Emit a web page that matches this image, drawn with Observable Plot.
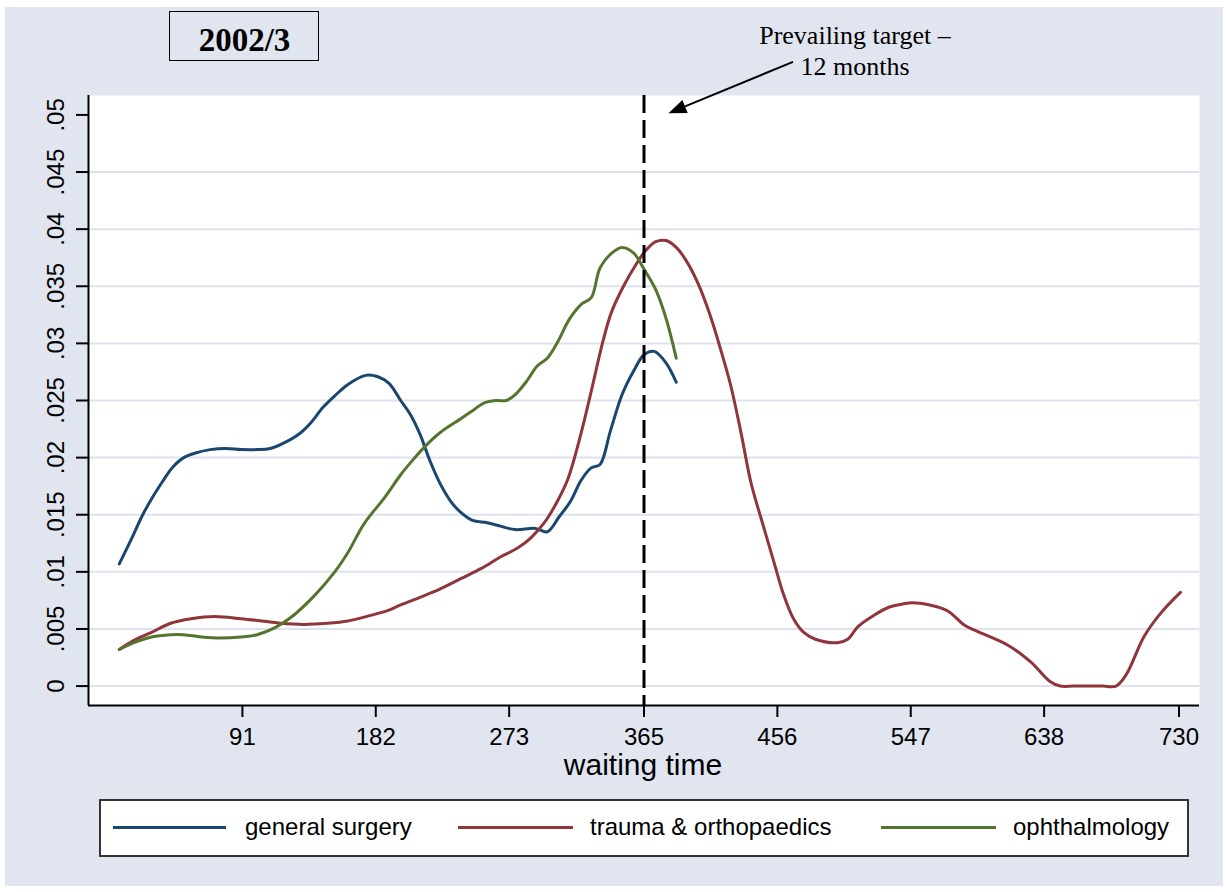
<!DOCTYPE html>
<html><head><meta charset="utf-8">
<script src="https://cdn.jsdelivr.net/npm/d3@7"></script>
<script src="https://cdn.jsdelivr.net/npm/@observablehq/plot@0.6"></script>
<style>
body{margin:0;background:#fff;}
#wrap{position:relative;width:1228px;height:892px;overflow:hidden;}
#bg{position:absolute;left:5px;top:7px;width:1218px;height:879px;background:#e0e5ef;}
.abs{position:absolute;white-space:nowrap;}
.sans{font-family:"Liberation Sans",Arial,sans-serif;color:#000;}
.serif{font-family:"Liberation Serif","Times New Roman",serif;color:#000;}
</style></head><body>
<div id="wrap"><div id="bg"></div></div>
<script>
const xTicks = [91, 182, 273, 365, 456, 547, 638, 730];
const yTicks = [0, 0.005, 0.01, 0.015, 0.02, 0.025, 0.03, 0.035, 0.04, 0.045, 0.05];
const yTickLabels = ["0", ".005", ".01", ".015", ".02", ".025", ".03", ".035", ".04", ".045", ".05"];
const gridValues = [0, 0.005, 0.01, 0.015, 0.02, 0.025, 0.03, 0.035, 0.04, 0.045];
const xDomain = [-14, 744];
const yDomain = [-0.0017, 0.0517];
const seriesNames = ["general surgery", "trauma & orthopaedics", "ophthalmology"];
const seriesColors = ["#1a476f", "#90353b", "#55752f"];
const xLabel = "waiting time";
const titleText = "2002/3";
const targetDay = 365;
const annotLines = ["Prevailing target \u2013", "12 months"];
const arrowFrom = [467, 0.0546];
const arrowTo = [382, 0.0501];

const gsDays = [7,15,23,30,37,43,51,59,69,80,90,101,110,124,131,138,146,154,163,175,183,191,199,205,212,219,226,233,240,248,258,267,277,291,299,307,315,322,329,335,342,350,358,365,372,380,387];
const gsValues = [0.0107,0.0128,0.0150,0.0166,0.0180,0.0191,0.0200,0.0204,0.0207,0.0208,0.0207,0.0207,0.0208,0.0216,0.0222,0.0231,0.0244,0.0254,0.0264,0.0272,0.0271,0.0265,0.0250,0.0239,0.0221,0.0197,0.0177,0.0162,0.0152,0.0145,0.0143,0.0140,0.0137,0.0138,0.0135,0.0148,0.0162,0.0180,0.0191,0.0194,0.0223,0.0255,0.0276,0.0290,0.0293,0.0283,0.0266];

const toDays = [7,17,29,42,56,72,90,104,117,133,149,163,176,190,199,213,226,240,254,267,279,288,297,306,313,321,329,337,343,351,359,366,373,380,387,394,402,410,417,424,431,438,446,454,460,467,474,482,497,504,511,522,532,542,548,560,572,584,594,613,629,642,649,658,668,678,687,694,706,717,731];
const toValues = [0.0032,0.0040,0.0047,0.0055,0.0059,0.0061,0.0059,0.0057,0.0055,0.0054,0.0055,0.0057,0.0061,0.0066,0.0071,0.0078,0.0085,0.0094,0.0103,0.0113,0.0121,0.0130,0.0143,0.0162,0.0181,0.0216,0.0258,0.0302,0.0328,0.0350,0.0368,0.0381,0.0389,0.0390,0.0384,0.0372,0.0352,0.0325,0.0296,0.0264,0.0223,0.0178,0.0142,0.0107,0.0081,0.0059,0.0047,0.0041,0.0038,0.0041,0.0052,0.0062,0.0069,0.0072,0.0073,0.0071,0.0066,0.0053,0.0047,0.0036,0.0021,0.0004,0,0,0,0,0,0.0010,0.0043,0.0063,0.0082];

const ophDays = [7,17,29,42,51,63,76,90,101,113,124,140,154,163,174,188,199,206,215,226,240,249,256,264,271,277,285,292,299,306,314,322,329,335,343,350,358,365,373,380,387];
const ophValues = [0.0032,0.0038,0.0043,0.0045,0.0045,0.0043,0.0042,0.0043,0.0045,0.0051,0.0060,0.0079,0.0100,0.0117,0.0142,0.0165,0.0185,0.0196,0.0209,0.0222,0.0234,0.0242,0.0248,0.0250,0.0250,0.0255,0.0267,0.0280,0.0287,0.0301,0.0321,0.0334,0.0340,0.0366,0.0379,0.0384,0.0379,0.0365,0.0347,0.0322,0.0287];

const rows = [];
[[gsDays, gsValues], [toDays, toValues], [ophDays, ophValues]].forEach(([ds, vs], k) => {
  ds.forEach((d, i) => rows.push({series: seriesNames[k], day: d, value: vs[i]}));
});

const chart = Plot.plot({
  width: 1228, height: 892,
  marginLeft: 88, marginRight: 29, marginTop: 95, marginBottom: 187,
  x: {domain: xDomain},
  y: {domain: yDomain},
  color: {domain: seriesNames, range: seriesColors},
  style: {background: "transparent", fontFamily: "'Liberation Sans', Arial, sans-serif", fontSize: "24px", color: "#000", overflow: "visible"},
  marks: [
    Plot.frame({fill: "white", stroke: null}),
    Plot.ruleY(gridValues, {stroke: "#dde2ee", strokeWidth: 2}),
    Plot.axisX({ticks: xTicks, tickSize: 12, tickPadding: 10, fontSize: 24, strokeWidth: 2, label: null}),
    Plot.axisY({ticks: yTicks, tickSize: 12, tickFormat: () => "", strokeWidth: 2, label: null}),
    Plot.text(yTicks, {y: d => d, text: (d, i) => yTickLabels[i], frameAnchor: "left", dx: -32, rotate: -90, textAnchor: "middle", lineAnchor: "middle", fontSize: 24, fill: "#000"}),
    Plot.ruleX([xDomain[0]], {stroke: "#000", strokeWidth: 2}),
    Plot.ruleY([yDomain[0]], {stroke: "#000", strokeWidth: 2}),
    Plot.line(rows, {x: "day", y: "value", z: "series", stroke: "series", strokeWidth: 3, curve: "catmull-rom"}),
    Plot.ruleX([targetDay], {stroke: "#000", strokeWidth: 3, strokeDasharray: "18,7"})
  ]
});
chart.style.position = "absolute";
chart.style.left = "0px";
chart.style.top = "0px";
const wrap = document.getElementById("wrap");
wrap.appendChild(chart);

// annotation arrow, placed through the chart's own scales
const sx = chart.scale("x"), sy = chart.scale("y");
const x1 = sx.apply(arrowFrom[0]), y1 = sy.apply(arrowFrom[1]);
const x2 = sx.apply(arrowTo[0]), y2 = sy.apply(arrowTo[1]);
const len = Math.hypot(x2 - x1, y2 - y1);
const ux = (x2 - x1) / len, uy = (y2 - y1) / len;
const hl = 18, hw = 7;
const bx = x2 - ux * hl, by = y2 - uy * hl;
const svg = d3.select(chart);
svg.append("line").attr("x1", x1).attr("y1", y1).attr("x2", bx).attr("y2", by)
  .attr("stroke", "#000").attr("stroke-width", 2);
svg.append("path")
  .attr("d", `M${x2},${y2}L${bx - uy * hw},${by + ux * hw}L${bx + uy * hw},${by - ux * hw}Z`)
  .attr("fill", "#000");

function add(html, cls, css) {
  const el = document.createElement("div");
  el.className = "abs " + cls;
  el.innerHTML = html;
  Object.assign(el.style, css);
  wrap.appendChild(el);
  return el;
}
// title box
add("", "", {left: "169px", top: "11px", width: "148px", height: "48px", border: "1.5px solid #000"});
add(titleText, "serif", {left: "169px", top: "24px", width: "151px", textAlign: "center", fontSize: "33px", lineHeight: "33px", fontWeight: "bold"});
// annotation
add(annotLines[0], "serif", {left: "705px", top: "23px", width: "300px", textAlign: "center", fontSize: "26px", lineHeight: "26px"});
add(annotLines[1], "serif", {left: "705px", top: "54px", width: "300px", textAlign: "center", fontSize: "26px", lineHeight: "26px"});
// x label
add(xLabel, "sans", {left: "443px", top: "750px", width: "400px", textAlign: "center", fontSize: "30px", lineHeight: "30px"});
// legend
add("", "", {left: "99px", top: "799px", width: "1086px", height: "54px", border: "2px solid #333", background: "#fff"});
const legLines = [[113, 226], [458, 573], [881, 996]];
const legText = [245, 590, 1013];
seriesNames.forEach((n, i) => {
  add("", "", {left: legLines[i][0] + "px", top: "826px", width: (legLines[i][1] - legLines[i][0]) + "px", height: "3px", background: seriesColors[i]});
  add(n.replace("&", "&amp;"), "sans", {left: legText[i] + "px", top: "815px", fontSize: "24px", lineHeight: "24px"});
});
</script>
</body></html>
